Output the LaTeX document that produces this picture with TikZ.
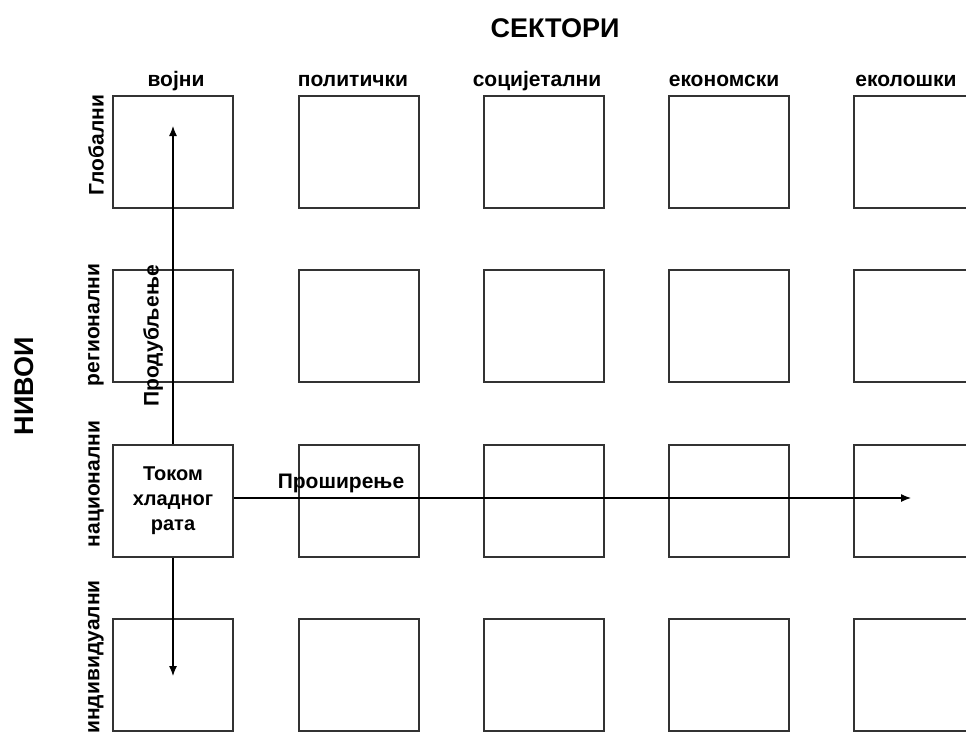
\documentclass[tikz,border=0pt]{standalone}
\usepackage{fontspec}
\setmainfont{Liberation Sans}
\usetikzlibrary{arrows.meta}

\begin{document}
\begin{tikzpicture}[
    x=1pt, y=1pt,
    cell/.style={
        draw=black!80,
        line width=1.8pt,
        minimum width=120pt,
        minimum height=112pt,
        inner sep=0pt
    },
    cell text/.style={
        align=center,
        font=\bfseries\fontsize{20}{25}\selectfont
    },
    sector/.style={anchor=base, font=\bfseries\fontsize{21}{25}\selectfont},
    level/.style={rotate=90, font=\bfseries\fontsize{21}{25}\selectfont},
    title/.style={font=\bfseries\fontsize{27}{32}\selectfont},
    arrow/.style={-{Latex[length=10pt,width=8pt]}, line width=1.2pt}
]
\useasboundingbox (0,0) rectangle (966,-737);

% Titles
\node[title] (sectors) at (555,-28) {СЕКТОРИ};
\node[title, rotate=90] (levels) at (24,-386) {НИВОИ};

% Grid of cells
\foreach \col/\x in {1/173,2/359,3/544,4/729,5/914}
    \foreach \row/\y in {1/152,2/326,3/501,4/675}
        \node[cell] (c\col-\row) at (\x,-\y) {};

\node[cell text] (cold war) at (c1-3) {Током\\хладног\\рата};

% Sectors
\node[sector] (military) at (176,-86) {војни};
\node[sector] (political) at (353,-86) {политички};
\node[sector] (societal) at (537,-86) {социјетални};
\node[sector] (economic) at (724,-86) {економски};
\node[sector] (ecological) at (906,-86) {еколошки};

% Levels
\node[level] (global) at (96,-145) {Глобални};
\node[level] (regional) at (96,-325) {регионални};
\node[level] (national) at (96,-484) {национални};
\node[level] (individual) at (96,-657) {индивидуални};

% Arrows
\coordinate (deep top) at (173,-126);
\coordinate (deep bottom) at (173,-676);
\coordinate (wide end) at (911,-498);
\draw[arrow] (c1-3.north) -- (deep top);
\draw[arrow] (c1-3.south) -- (deep bottom);
\draw[arrow] ([yshift=3pt]c1-3.east) -- (wide end);

\node[level] (deepening) at (153,-336) {Продубљење};
\node[cell text, font=\bfseries\fontsize{21}{25}\selectfont] (widening) at (341,-483) {Проширење};

\end{tikzpicture}
\end{document}
